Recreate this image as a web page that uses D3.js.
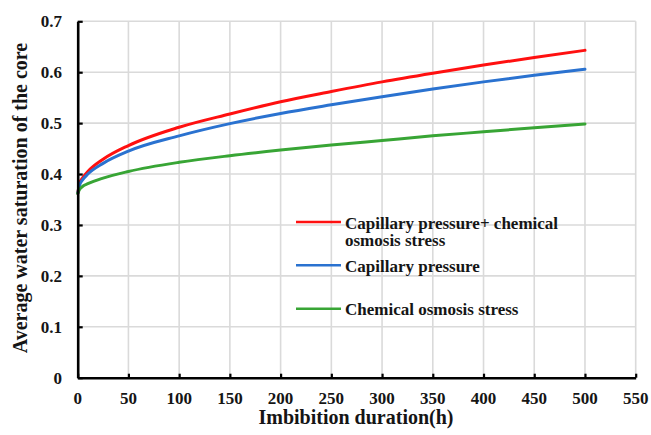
<!DOCTYPE html>
<html>
<head>
<meta charset="utf-8">
<script src="https://cdn.jsdelivr.net/npm/d3@7/dist/d3.min.js"></script>
</head>
<body style="margin:0">
<svg id="imbibition" width="651" height="435"></svg>
<script>
// Imbibition time (h)
const hours = [0, 2, 5, 10, 25, 50, 100, 150, 200, 250, 300, 350, 400, 450, 500];

// Average water saturation of the core for each mechanism
const capChem  = [0.362, 0.382, 0.393, 0.405, 0.429, 0.456, 0.492, 0.518, 0.542, 0.562, 0.581, 0.598, 0.614, 0.629, 0.643];
const capOnly  = [0.362, 0.379, 0.389, 0.400, 0.421, 0.445, 0.475, 0.499, 0.519, 0.536, 0.552, 0.567, 0.581, 0.594, 0.606];
const chemOnly = [0.362, 0.370, 0.376, 0.381, 0.392, 0.405, 0.423, 0.436, 0.447, 0.457, 0.466, 0.475, 0.483, 0.491, 0.4985];

const seriesNames = ["Capillary pressure+ chemical osmosis stress", "Capillary pressure", "Chemical osmosis stress"];
const seriesColors = ["#ff1010", "#2a72d0", "#38a535"];

const xTicks = [0, 50, 100, 150, 200, 250, 300, 350, 400, 450, 500, 550];
const yTicks = [0, 0.1, 0.2, 0.3, 0.4, 0.5, 0.6, 0.7];

const svg = d3.select("#imbibition");
const plotLeft = 77.7, plotRight = 635.7, plotTop = 21.3, plotBottom = 377.7;

const x = d3.scaleLinear().domain([0, 550]).range([plotLeft, plotRight]);
const y = d3.scaleLinear().domain([0, 0.7]).range([plotBottom, plotTop]);

// all labels: bold serif
function addLabel(parent, px, py, str, size, anchor) {
  return parent.append("text")
    .attr("x", px).attr("y", py)
    .style("font-family", '"Liberation Serif"', "important")
    .style("font-weight", "bold", "important")
    .style("font-size", size + "px", "important")
    .style("fill", "#151515")
    .attr("text-anchor", anchor || "start")
    .text(str);
}

// grid
const grid = svg.append("g").attr("stroke", "#dadada").attr("stroke-width", 1.6);
grid.selectAll("line.v").data(xTicks.slice(1)).join("line").attr("class", "v")
  .attr("x1", d => x(d)).attr("x2", d => x(d))
  .attr("y1", y(0)).attr("y2", y(0.7));
grid.selectAll("line.h").data(yTicks.slice(1)).join("line").attr("class", "h")
  .attr("x1", x(0)).attr("x2", x(550))
  .attr("y1", d => y(d)).attr("y2", d => y(d));

// series
const line = d3.line().x(d => x(d[0])).y(d => y(d[1])).curve(d3.curveMonotoneX);
[capChem, capOnly, chemOnly].forEach((vals, i) => {
  svg.append("path")
    .datum(hours.map((h, j) => [h, vals[j]]))
    .attr("fill", "none").attr("stroke", seriesColors[i]).attr("stroke-width", 3)
    .attr("stroke-linecap", "round")
    .attr("d", line);
});

// axes (lines and ticks from d3-axis, labels drawn separately)
const xAxis = svg.append("g").attr("transform", `translate(0,${plotBottom})`)
  .call(d3.axisBottom(x).tickValues(xTicks).tickSizeInner(-4).tickSizeOuter(0).tickFormat(""));
const yAxis = svg.append("g").attr("transform", `translate(${plotLeft},0)`)
  .call(d3.axisLeft(y).tickValues(yTicks).tickSizeInner(-5).tickSizeOuter(0).tickFormat(""));
[xAxis, yAxis].forEach(a => {
  a.attr("font-family", null).attr("font-size", null);
  a.select(".domain").attr("stroke", "#000").attr("stroke-width", 2.6);
  a.selectAll(".tick line").attr("stroke", "#000").attr("stroke-width", 2.2);
  a.selectAll(".tick text").remove();
});

const labels = svg.append("g");
xTicks.forEach(t => addLabel(labels, x(t), 403.5, d3.format("d")(t), 17, "middle"));
yTicks.forEach(t => addLabel(labels, 62, y(t) + 6, t === 0 ? "0" : d3.format(".1f")(t), 17, "end"));

// axis titles
addLabel(svg, 356, 424, "Imbibition duration(h)", 20, "middle");
addLabel(svg, 0, 0, "Average water saturation of the core", 20, "middle")
  .attr("transform", "translate(27,198) rotate(-90)");

// legend
const legend = svg.append("g");
const legendRows = [
  { ly: 222, lines: ["Capillary pressure+ chemical", "osmosis stress"], ty: 228.5 },
  { ly: 265.3, lines: [seriesNames[1]], ty: 271.5 },
  { ly: 308.7, lines: [seriesNames[2]], ty: 314.5 }
];
legendRows.forEach((r, i) => {
  legend.append("line").attr("x1", 296).attr("x2", 341)
    .attr("y1", r.ly).attr("y2", r.ly)
    .attr("stroke", seriesColors[i]).attr("stroke-width", 2.6);
  r.lines.forEach((s, k) => addLabel(legend, 345, r.ty + k * 17.5, s, 17));
});
</script>
</body>
</html>
